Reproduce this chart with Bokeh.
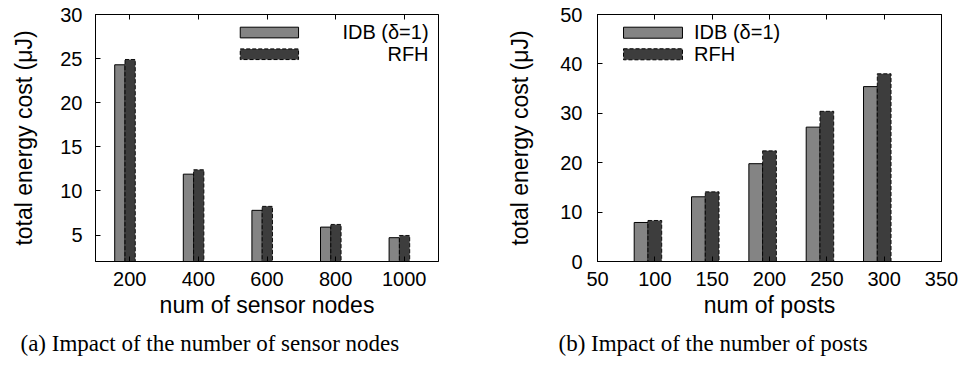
from bokeh.plotting import figure
from bokeh.layouts import row
from bokeh.models import LinearAxis, Title, FixedTicker, Range1d, ColumnDataSource
from bokeh.transform import dodge
from bokeh.core.properties import value
from bokeh.embed import file_html
from bokeh.resources import INLINE

# ---------------- data ----------------
nodes = [200, 400, 600, 800, 1000]
idb_nodes = [24.3, 11.9, 7.8, 5.9, 4.7]
rfh_nodes = [24.9, 12.4, 8.25, 6.2, 4.95]

posts = [100, 150, 200, 250, 300]
idb_posts = [7.9, 13.1, 19.8, 27.2, 35.4]
rfh_posts = [8.3, 14.1, 22.4, 30.4, 38.0]

left_xticks = [200, 400, 600, 800, 1000]
left_yticks = [5, 10, 15, 20, 25, 30]
right_xticks = [50, 100, 150, 200, 250, 300, 350]
right_yticks = [0, 10, 20, 30, 40, 50]

series_names = ["IDB (\u03b4=1)", "RFH"]
ylabel = "total energy cost (\u03bcJ)"
xlabel_a = "num of sensor nodes"
xlabel_b = "num of posts"
caption_a = "(a) Impact of the number of sensor nodes"
caption_b = "(b) Impact of the number of posts"

# ---------------- style ----------------
SANS = "Liberation Sans"
SERIF = "Liberation Serif"
IDB_FILL = "#848484"
RFH_FILL = "#3d3d3d"
DASH = "4 2"
TICK_FS = "20px"
LABEL_FS = "23px"
CAP_FS = "23px"


def style_axes(p, xticks, yticks, ylab_standoff, ytick_standoff):
    p.xgrid.grid_line_color = None
    p.ygrid.grid_line_color = None
    p.outline_line_color = "black"
    p.outline_line_width = 1
    p.outline_line_alpha = 1
    for ax in p.xaxis + p.yaxis:
        ax.major_tick_in = 5
        ax.major_tick_out = 0
        ax.minor_tick_line_color = None
        ax.axis_line_color = "black"
        ax.major_tick_line_color = "black"
        ax.major_label_text_font = SANS
        ax.major_label_text_font_size = TICK_FS
        ax.major_label_text_color = "black"
        ax.axis_label_text_font = SANS
        ax.axis_label_text_font_size = LABEL_FS
        ax.axis_label_text_font_style = "normal"
        ax.axis_label_text_color = "black"
    p.xaxis.ticker = FixedTicker(ticks=xticks)
    p.yaxis.ticker = FixedTicker(ticks=yticks)
    p.xaxis.major_label_standoff = 10
    p.xaxis.axis_label_standoff = 3
    p.yaxis.major_label_standoff = ytick_standoff
    p.yaxis.axis_label_standoff = ylab_standoff
    # mirrored ticks on top, without labels
    top = LinearAxis(ticker=FixedTicker(ticks=xticks))
    top.major_tick_in = 5
    top.major_tick_out = 0
    top.minor_tick_line_color = None
    top.major_label_text_color = None
    top.major_label_text_font_size = "1px"
    top.major_label_standoff = 0
    top.axis_line_color = "black"
    p.add_layout(top, "above")


def make_fig(xs, idb, rfh, xr, yr, xticks, yticks, xlabel, caption,
             bl, br, off_idb, off_rfh, bw, ylab_standoff, ytick_standoff,
             cap_offset, legend_cfg):
    p = figure(width=483, height=376, output_backend="svg", toolbar_location=None,
               x_range=Range1d(*xr), y_range=Range1d(*yr),
               min_border_left=bl, min_border_right=br,
               min_border_top=14, min_border_bottom=115,
               background_fill_color="white", border_fill_color="white")
    src = ColumnDataSource(dict(x=xs, idb=idb, rfh=rfh))
    p.vbar(x=dodge("x", off_idb, range=p.x_range), top="idb", bottom=yr[0] - 5, width=bw,
           source=src, fill_color=IDB_FILL, line_color="black", line_width=1)
    p.vbar(x=dodge("x", off_rfh, range=p.x_range), top="rfh", bottom=yr[0] - 5, width=bw,
           source=src, fill_color=RFH_FILL, line_color="black", line_width=0.9,
           line_dash=DASH)
    # legend (manual, gnuplot-like)
    sw_l, sw_r, rows, text_x, align = legend_cfg
    for (b, t, ty), name, fill, dash in zip(rows, series_names, [IDB_FILL, RFH_FILL],
                                           ["solid", DASH]):
        p.quad(left=[sw_l], right=[sw_r], bottom=[b], top=[t], fill_color=fill,
               line_color="black", line_width=1, line_dash=dash)
        p.text(x=[text_x], y=[ty], text=[name], text_align=align, text_baseline="middle",
               text_font=value(SANS), text_font_size=TICK_FS, text_color="black")
    p.xaxis.axis_label = xlabel
    p.yaxis.axis_label = ylabel
    style_axes(p, xticks, yticks, ylab_standoff, ytick_standoff)
    cap = Title(text=caption, align="left", offset=cap_offset, text_font=SERIF,
                text_font_size=CAP_FS, text_font_style="normal", text_color="black",
                standoff=16)
    p.add_layout(cap, "below")
    return p


pa = make_fig(nodes, idb_nodes, rfh_nodes, (100, 1100), (2, 30), left_xticks, left_yticks,
              xlabel_a, caption_a, 95, 45, -29, 1, 30, 20, 13, -75,
              (522, 692, [(27.35, 28.56, 27.99), (24.89, 26.1, 25.53)], 1071, "right"))
pb = make_fig(posts, idb_posts, rfh_posts, (50, 350), (0, 50), right_xticks, right_yticks,
              xlabel_b, caption_b, 114, 25, -12, 0, 12, 24, 15, -39,
              (72.7, 124.1, [(45.2, 47.43, 46.4), (40.83, 43.06, 42.0)], 134.2, "left"))

layout = row(pa, pb)
layout.spacing = 0
open("out.html", "w").write(file_html(layout, INLINE))
